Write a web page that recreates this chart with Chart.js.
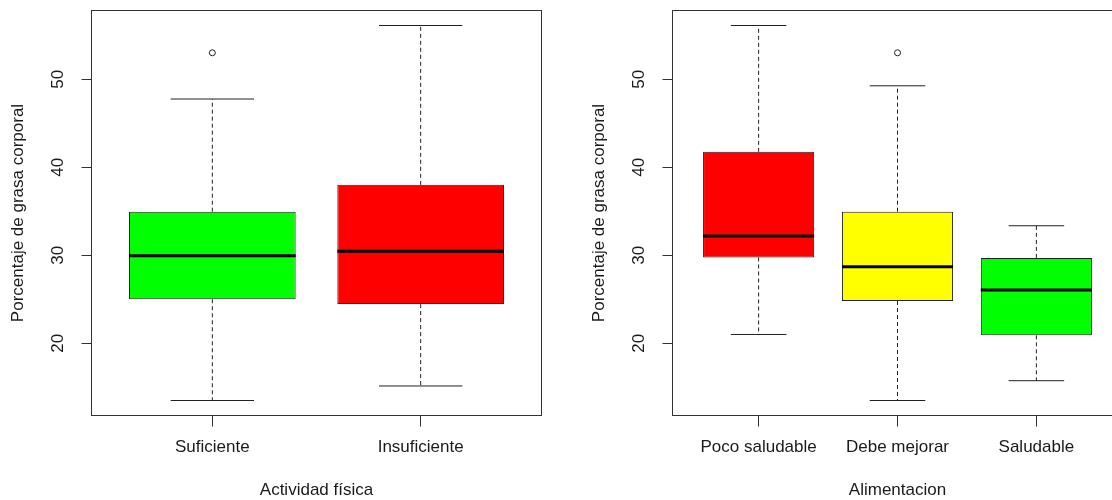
<!DOCTYPE html>
<html>
<head>
<meta charset="utf-8">
<script src="https://cdn.jsdelivr.net/npm/chart.js@4/dist/chart.umd.min.js"></script>
<style>
  html, body { margin: 0; padding: 0; background: #fff; overflow: hidden; }
  #wrap { position: relative; width: 1112px; height: 500px; overflow: hidden; }
  .panel { position: absolute; top: 0; width: 581px; height: 500px; }
</style>
</head>
<body>
<div id="wrap">
  <div class="panel" style="left:0"><canvas id="actividadChart" width="581" height="500"></canvas></div>
  <div class="panel" style="left:581px"><canvas id="alimentacionChart" width="581" height="500"></canvas></div>
</div>
<script>
// Actividad física
const actividadLabels = ["Suficiente", "Insuficiente"];
const actividadLower = [13.5, 15.15];
const actividadQ1 = [25.0, 24.45];
const actividadMedian = [29.95, 30.45];
const actividadQ3 = [34.95, 38.0];
const actividadUpper = [47.75, 56.1];
const actividadOutliers = [[53.0], []];
const actividadColors = ["#00FF00", "#FF0000"];

// Alimentacion
const alimentacionLabels = ["Poco saludable", "Debe mejorar", "Saludable"];
const alimentacionLower = [21.0, 13.5, 15.75];
const alimentacionQ1 = [29.75, 24.8, 20.9];
const alimentacionMedian = [32.2, 28.7, 26.05];
const alimentacionQ3 = [41.75, 34.95, 29.7];
const alimentacionUpper = [56.1, 49.25, 33.35];
const alimentacionOutliers = [[], [53.0], []];
const alimentacionColors = ["#FF0000", "#FFFF00", "#00FF00"];

const yTicks = [20, 30, 40, 50];
const yTitle = "Porcentaje de grasa corporal";

const textColor = "#1a1a1a";
const baseFont = { family: "'Liberation Sans', Arial, sans-serif", size: 17, lineHeight: 1.1 };

// whiskers, staples, medians, frame and rotated y labels
const boxParts = {
    id: "boxParts",
    afterDatasetsDraw(chart, args, opts) {
        const { ctx, chartArea, scales: { x, y } } = chart;
        ctx.save();
        ctx.strokeStyle = "#222";
        opts.median.forEach((med, i) => {
            const pos = i + 1;
            const cx = x.getPixelForValue(pos);
            const capL = x.getPixelForValue(pos - 0.2);
            const capR = x.getPixelForValue(pos + 0.2);
            // dashed whiskers
            ctx.lineWidth = 1;
            ctx.setLineDash([4, 3]);
            ctx.beginPath();
            ctx.moveTo(cx, y.getPixelForValue(opts.q3[i]));
            ctx.lineTo(cx, y.getPixelForValue(opts.upper[i]));
            ctx.moveTo(cx, y.getPixelForValue(opts.q1[i]));
            ctx.lineTo(cx, y.getPixelForValue(opts.lower[i]));
            ctx.stroke();
            // staples
            ctx.setLineDash([]);
            ctx.beginPath();
            ctx.moveTo(capL, y.getPixelForValue(opts.upper[i]));
            ctx.lineTo(capR, y.getPixelForValue(opts.upper[i]));
            ctx.moveTo(capL, y.getPixelForValue(opts.lower[i]));
            ctx.lineTo(capR, y.getPixelForValue(opts.lower[i]));
            ctx.stroke();
            // median
            ctx.strokeStyle = "#000";
            ctx.lineWidth = 3;
            ctx.beginPath();
            ctx.moveTo(x.getPixelForValue(pos - 0.4), y.getPixelForValue(med));
            ctx.lineTo(x.getPixelForValue(pos + 0.4), y.getPixelForValue(med));
            ctx.stroke();
            ctx.strokeStyle = "#222";
        });
        // frame
        ctx.lineWidth = 1;
        ctx.strokeStyle = "#333";
        ctx.strokeRect(chartArea.left, chartArea.top, chartArea.right - chartArea.left, chartArea.bottom - chartArea.top);
        // y tick labels, rotated like R
        ctx.fillStyle = textColor;
        ctx.font = `${baseFont.size}px ${baseFont.family}`;
        ctx.textAlign = "center";
        ctx.textBaseline = "middle";
        y.ticks.forEach(t => {
            ctx.save();
            ctx.translate(chartArea.left - 33.5, y.getPixelForValue(t.value));
            ctx.rotate(-Math.PI / 2);
            ctx.fillText(String(t.value), 0, 0);
            ctx.restore();
        });
        ctx.restore();
    }
};

function makeBoxChart(canvasId, labels, lower, q1, median, q3, upper, outliers, colors, xTitle) {
    const n = labels.length;
    const allVals = lower.concat(upper, outliers.flat());
    const lo = Math.min(...allVals);
    const hi = Math.max(...allVals);
    const pad = (hi - lo) * 0.04;

    return new Chart(document.getElementById(canvasId), {
        type: "bar",
        data: {
            datasets: [
                {
                    type: "bar",
                    data: labels.map((_, i) => ({ x: i + 1, y: [q1[i], q3[i]] })),
                    backgroundColor: colors,
                    borderColor: "#222",
                    borderWidth: 1,
                    borderSkipped: false,
                    barPercentage: 0.8,
                    categoryPercentage: 1,
                },
                {
                    type: "scatter",
                    data: outliers.flatMap((vals, i) => vals.map(v => ({ x: i + 1, y: v }))),
                    pointStyle: "circle",
                    pointRadius: 3,
                    borderColor: "#222",
                    backgroundColor: "rgba(0,0,0,0)",
                    borderWidth: 1,
                },
            ],
        },
        options: {
            responsive: false,
            animation: false,
            layout: { padding: { top: 10.5, right: 39.5, bottom: 0, left: 0 } },
            plugins: {
                legend: { display: false },
                tooltip: { enabled: false },
                boxParts: { lower, q1, median, q3, upper },
            },
            scales: {
                x: {
                    type: "linear",
                    min: 0.5 - 0.04 * n,
                    max: n + 0.5 + 0.04 * n,
                    offset: false,
                    afterBuildTicks: s => { s.ticks = labels.map((_, i) => ({ value: i + 1 })); },
                    ticks: {
                        callback: v => labels[Math.round(v) - 1],
                        autoSkip: false,
                        maxRotation: 0,
                        padding: 11,
                        color: textColor,
                        font: baseFont,
                    },
                    grid: { drawOnChartArea: false, drawTicks: true, tickLength: 11, offset: false, color: "#333" },
                    border: { display: false },
                    title: { display: true, text: xTitle, color: textColor, font: baseFont, padding: { top: 0, bottom: 0 } },
                    afterFit: s => { s.height = 84.5; },
                },
                y: {
                    min: lo - pad,
                    max: hi + pad,
                    afterBuildTicks: s => { s.ticks = yTicks.map(v => ({ value: v })); },
                    ticks: { display: false },
                    grid: { drawOnChartArea: false, drawTicks: true, tickLength: 10, color: "#333" },
                    border: { display: false },
                    title: { display: true, text: yTitle, color: textColor, font: baseFont, padding: { top: 9, bottom: 0 } },
                    afterFit: s => { s.width = 91.5; },
                },
            },
        },
        plugins: [boxParts],
    });
}

makeBoxChart("actividadChart", actividadLabels, actividadLower, actividadQ1, actividadMedian,
    actividadQ3, actividadUpper, actividadOutliers, actividadColors, "Actividad física");
makeBoxChart("alimentacionChart", alimentacionLabels, alimentacionLower, alimentacionQ1, alimentacionMedian,
    alimentacionQ3, alimentacionUpper, alimentacionOutliers, alimentacionColors, "Alimentacion");
</script>
</body>
</html>
